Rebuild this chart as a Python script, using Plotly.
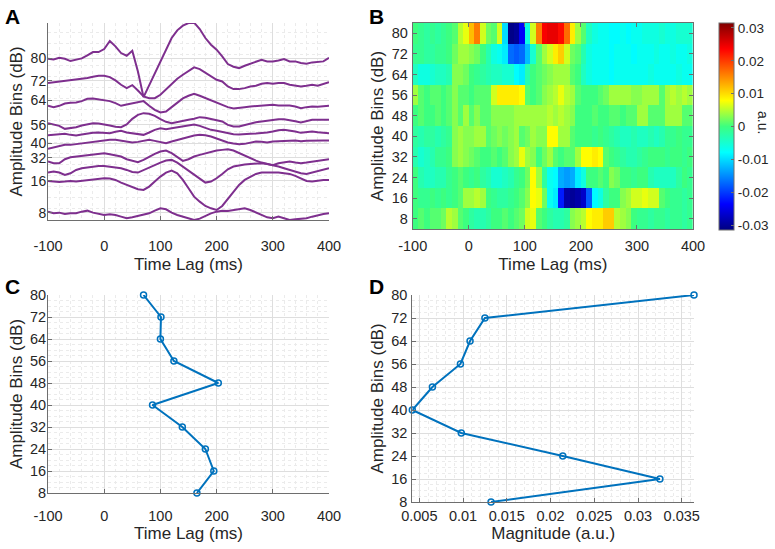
import plotly.graph_objects as go

# ---------------- data ----------------
# Panel A: time axis (ms) and offset traces (vertical offset units, larger = lower on plot)
time_ms = list(range(-100, 401, 10))
trace_80 = [177,179,174,177,184,181,176,167,157,157, 148,124,140,160,168,153,215,292,257,222,
            186,150,115,92,78,70,69,88,115,135, 150,170,193,201,205,198,192,185,180,185,
            185,182,178,185,185,190,192,188,187,185, 174]
trace_72 = [250,248,246,244,242,240,238,235,231,228, 228,232,242,255,265,256,272,290,295,295,
            285,268,253,237,225,215,203,208,218,230, 240,245,260,268,268,265,260,258,252,250,
            252,250,250,255,258,260,258,255,258,253, 247]
trace_64 = [318,322,318,311,309,308,304,297,296,298, 300,304,310,318,314,310,306,304,318,330,
            338,335,322,308,296,288,282,288,295,303, 310,316,322,326,325,322,320,319,317,316,
            315,317,316,317,320,325,322,320,321,319, 318]
trace_56 = [370,373,378,387,385,382,377,374,370,371, 373,377,381,382,374,357,345,340,342,348,
            358,366,370,366,362,360,357,352,354,358, 360,365,375,380,380,375,370,367,365,362,
            360,358,358,360,364,368,364,360,360,360, 360]
trace_48 = [406,405,403,402,405,407,404,401,399,398, 398,400,396,393,398,400,403,405,398,390,
            385,388,385,382,380,376,374,378,385,390, 393,397,400,403,404,404,402,401,400,398,
            395,391,390,392,395,399,397,395,397,398, 400]
trace_40 = [447,443,438,435,435,433,430,427,425,423, 422,420,420,423,426,428,426,422,420,423,
            426,430,425,420,415,410,407,405,406,410, 416,422,428,431,433,432,428,425,426,428,
            425,425,425,423,422,424,423,422,422,422, 422]
trace_32 = [485,490,490,478,472,470,468,465,463,462, 460,463,466,470,478,482,487,480,470,462,
            455,452,460,472,483,478,470,465,460,456, 452,450,448,452,460,468,475,482,488,493,
            496,490,487,485,488,490,488,485,482,480, 478]
trace_24 = [518,515,518,525,520,510,505,502,500,498, 498,500,502,505,510,516,518,510,502,495,
            488,482,480,488,500,512,525,538,548,545, 535,522,508,500,496,494,492,490,490,492,
            495,500,505,510,515,520,522,518,512,508, 505]
trace_16 = [543,545,546,545,543,545,543,540,538,535, 535,536,540,548,555,562,568,570,560,545,
            530,518,512,520,540,565,590,605,618,625, 630,618,598,575,555,540,530,522,518,517,
            518,518,520,522,528,535,543,545,542,540, 540]
trace_8 = [635,640,638,642,640,640,635,632,638,642, 645,643,645,650,655,652,648,645,640,632,
           625,628,638,645,650,655,660,656,648,640, 635,632,633,630,628,625,630,638,645,652,
           655,650,655,660,658,657,655,650,645,642, 640]
traces_a = [trace_80, trace_72, trace_64, trace_56, trace_48, trace_40, trace_32, trace_24, trace_16, trace_8]
a_tick_pos = [175, 243, 302, 375, 430, 474, 543, 638]
a_tick_text = ["80", "72", "64", "56", "40", "32", "16", "8"]

# Panel B: heatmap, 10 ms bins (centres) x amplitude bins
bin_centres_ms = list(range(-95, 400, 10))
amp_bins = [8, 16, 24, 32, 40, 48, 56, 64, 72, 80]
row_8 = [0.000,0.001,0.000,0.001,0.001,0.002,0.005,0.004,0.001,0.000,
         -0.002,-0.003,-0.003,-0.002,0.000,0.000,0.001,0.000,0.001,0.002,
         0.006,0.007,0.001,0.000,-0.002,-0.003,-0.003,-0.002,0.003,0.004,
         0.005,0.008,0.009,0.009,0.011,0.011,0.005,0.004,0.003,0.000,
         -0.001,-0.001,-0.002,-0.001,-0.001,-0.002,-0.001,-0.001,-0.002,-0.001]
row_16 = [0.000,-0.001,-0.001,0.000,-0.001,0.000,-0.001,0.000,0.001,0.004,
          0.004,0.005,0.004,0.000,-0.001,-0.002,-0.002,-0.001,0.000,0.001,
          0.003,0.008,0.007,0.002,-0.007,-0.009,-0.022,-0.029,-0.030,-0.029,
          -0.027,-0.018,-0.008,-0.006,-0.002,0.000,0.000,0.003,0.004,0.006,
          0.006,0.007,0.006,0.006,0.001,0.000,-0.001,-0.001,-0.002,-0.001]
row_24 = [0.000,-0.003,-0.004,-0.004,-0.003,-0.003,-0.001,0.000,0.001,0.000,
          -0.001,0.000,-0.002,-0.003,-0.005,-0.005,-0.004,-0.003,-0.001,0.000,
          0.002,0.008,0.004,-0.002,-0.007,-0.008,-0.013,-0.014,-0.013,-0.009,
          -0.006,0.000,0.000,0.001,0.000,0.003,0.002,0.000,0.000,-0.001,
          0.000,0.000,-0.003,-0.004,-0.004,-0.004,-0.004,-0.002,0.000,-0.001]
row_32 = [-0.003,-0.005,-0.004,-0.003,-0.001,-0.001,0.000,0.003,0.004,0.003,
          0.002,0.001,0.000,0.000,0.001,0.000,0.001,0.003,0.004,0.007,
          0.004,0.003,0.000,0.002,0.004,0.001,0.000,0.001,0.001,0.004,
          0.008,0.008,0.009,0.008,0.001,0.000,-0.001,-0.002,-0.003,-0.003,
          -0.002,-0.001,0.000,0.000,0.000,-0.001,0.000,0.000,-0.001,0.000]
row_40 = [-0.002,-0.003,-0.002,-0.002,-0.003,-0.002,-0.001,0.003,0.004,0.003,
          0.003,0.004,0.004,0.001,0.002,0.003,0.002,0.003,0.004,0.001,
          0.002,0.004,0.003,0.003,0.008,0.008,0.004,0.004,0.001,0.000,
          0.000,0.000,-0.001,0.000,-0.001,-0.002,-0.003,-0.004,-0.004,-0.003,
          -0.004,-0.004,-0.003,-0.004,-0.003,-0.001,-0.001,0.000,-0.001,-0.001]
row_48 = [0.000,0.001,0.000,0.000,0.001,0.000,0.001,0.003,0.001,0.004,
          0.001,0.003,0.001,0.001,0.003,0.003,0.003,0.003,0.004,0.004,
          0.004,0.004,0.004,0.004,0.005,0.004,0.005,0.004,0.003,0.000,
          0.000,0.000,0.001,0.000,0.000,0.001,0.001,0.000,0.001,0.001,
          0.004,0.004,0.001,0.001,0.001,0.004,0.004,0.004,0.001,0.001]
row_56 = [0.004,0.001,0.000,0.001,0.001,0.000,0.001,0.003,0.001,0.001,
          0.000,0.001,0.001,0.001,0.006,0.009,0.009,0.009,0.009,0.008,
          0.001,0.000,0.001,0.003,0.004,0.005,0.007,0.005,0.004,0.001,
          0.000,0.000,0.000,0.001,0.002,0.004,0.004,0.004,0.004,0.003,
          0.003,0.004,0.004,0.004,0.001,0.004,0.005,0.004,0.005,0.004]
row_64 = [-0.004,-0.006,-0.006,-0.005,-0.004,-0.004,-0.003,0.003,0.003,0.002,
          0.000,-0.001,-0.002,-0.003,-0.004,-0.004,-0.005,-0.005,-0.008,-0.009,
          -0.003,0.000,0.001,0.002,0.003,0.004,0.004,0.004,0.001,0.000,
          -0.004,-0.006,-0.007,-0.007,-0.007,-0.008,-0.007,-0.007,-0.007,-0.007,
          -0.007,-0.007,-0.006,-0.007,-0.007,-0.007,-0.007,-0.006,-0.007,-0.007]
row_72 = [-0.001,-0.001,-0.002,-0.002,-0.001,-0.001,0.000,0.002,0.004,0.004,
          0.003,0.002,0.000,-0.003,-0.006,-0.007,-0.009,-0.017,-0.018,-0.017,
          -0.012,-0.005,0.001,0.004,0.006,0.009,0.011,0.006,0.002,0.001,
          -0.003,-0.006,-0.007,-0.007,-0.007,-0.008,-0.007,-0.007,-0.007,-0.008,
          -0.007,-0.007,-0.007,-0.006,-0.007,-0.007,-0.006,-0.007,-0.007,-0.006]
row_80 = [0.000,-0.001,-0.002,-0.001,-0.002,-0.001,0.000,0.001,0.005,0.007,
          0.012,0.016,0.006,0.002,0.001,0.006,-0.010,-0.031,-0.030,-0.024,
          -0.006,0.006,0.016,0.024,0.025,0.025,0.023,0.017,0.009,0.004,
          0.001,-0.004,-0.006,-0.007,-0.007,-0.008,-0.008,-0.007,-0.008,-0.007,
          -0.007,-0.006,-0.006,-0.006,-0.005,-0.006,-0.006,-0.005,-0.005,-0.005]
heat_rows = [row_8, row_16, row_24, row_32, row_40, row_48, row_56, row_64, row_72, row_80]
cbar_ticks = [-0.03, -0.02, -0.01, 0, 0.01, 0.02, 0.03]
cbar_text = ["-0.03", "-0.02", "-0.01", "0", "0.01", "0.02", "0.03"]

# Panel C / D
peak_lag_ms = [165, 195, 180, 139, 86, 203, 124, 100, 101, 70]
magnitude = [0.0132, 0.0325, 0.0214, 0.0098, 0.0042, 0.0065, 0.0097, 0.0108, 0.0125, 0.0364]

time_ticks = [-100, 0, 100, 200, 300, 400]
time_text = ["-100", "0", "100", "200", "300", "400"]
mag_ticks = [0.005, 0.01, 0.015, 0.02, 0.025, 0.03, 0.035]
mag_text = ["0.005", "0.01", "0.015", "0.02", "0.025", "0.03", "0.035"]

# ---------------- figure ----------------
W, H = 775, 549
def fx(px): return px / W
def fy(py): return 1 - py / H

FONT = "Arial, Liberation Sans, sans-serif"
TXT = "#262626"
AX = "#6e6e6e"
GRID = "#dedede"
MINOR = "#ebebeb"
PURPLE = "#7E2F8E"
BLUE = "#0072BD"
jet = [[0, "#000080"], [0.125, "#0000ff"], [0.375, "#00ffff"], [0.5, "#3cff80"],
       [0.625, "#ffff00"], [0.875, "#ff0000"], [1, "#800000"]]

fig = go.Figure()

for tr in traces_a:
    fig.add_trace(go.Scatter(x=time_ms, y=tr, mode="lines", xaxis="x", yaxis="y",
                             line=dict(color=PURPLE, width=2), showlegend=False,
                             hoverinfo="skip"))

fig.add_trace(go.Heatmap(x=bin_centres_ms, y=amp_bins, z=heat_rows, xaxis="x2", yaxis="y2",
                         colorscale=jet, zmin=-0.0315, zmax=0.0315,
                         colorbar=dict(x=fx(719), xanchor="left", xpad=0, ypad=0,
                                       thickness=15, thicknessmode="pixels",
                                       len=207 / H, lenmode="fraction",
                                       y=fy(126.5), yanchor="middle",
                                       outlinewidth=1, outlinecolor=AX,
                                       tickvals=cbar_ticks, ticktext=cbar_text,
                                       ticks="inside", ticklen=3, tickcolor=AX,
                                       tickfont=dict(family=FONT, size=13.5, color=TXT))))

fig.add_trace(go.Scatter(x=peak_lag_ms, y=amp_bins, mode="lines+markers", xaxis="x3", yaxis="y3",
                         line=dict(color=BLUE, width=2),
                         marker=dict(symbol="circle-open", size=6, color=BLUE, line=dict(width=1.5)),
                         cliponaxis=False, showlegend=False))
fig.add_trace(go.Scatter(x=magnitude, y=amp_bins, mode="lines+markers", xaxis="x4", yaxis="y4",
                         line=dict(color=BLUE, width=2),
                         marker=dict(symbol="circle-open", size=6, color=BLUE, line=dict(width=1.5)),
                         cliponaxis=False, showlegend=False))

tickfont = dict(family=FONT, size=14.5, color=TXT)
titlefont = dict(family=FONT, size=17, color=TXT)

def xax(domain, anchor, rng, tv, tt, minor_dtick, title, standoff_lbl, mirror=False, tstand=4):
    return dict(domain=domain, anchor=anchor, range=rng, tickmode="array", tickvals=tv, ticktext=tt,
                automargin=False,
                showgrid=True, gridcolor=GRID, gridwidth=1, zeroline=False,
                showline=True, linecolor=AX, linewidth=1, mirror=mirror,
                ticks="inside", ticklen=4, tickcolor=AX, tickfont=tickfont,
                ticklabelstandoff=standoff_lbl,
                minor=dict(tickmode="linear", tick0=0, dtick=minor_dtick, showgrid=True,
                           gridcolor=MINOR, griddash="dot", ticks=""),
                title=dict(text=title, font=titlefont, standoff=tstand))

def yax(domain, anchor, rng, tv, tt, minor_dtick, title, standoff_lbl, mirror=False, grid=True,
        font=None):
    return dict(domain=domain, anchor=anchor, range=rng, tickmode="array", tickvals=tv, ticktext=tt,
                automargin=False,
                showgrid=grid, gridcolor=GRID, gridwidth=1, zeroline=False,
                showline=True, linecolor=AX, linewidth=1, mirror=mirror,
                ticks="inside", ticklen=4, tickcolor=AX, tickfont=font or tickfont,
                ticklabelstandoff=standoff_lbl,
                minor=dict(tickmode="linear", tick0=0, dtick=minor_dtick, showgrid=grid,
                           gridcolor=MINOR, griddash="dot", ticks=""),
                title=dict(text=title, font=titlefont, standoff=3))

bins_text = [str(b) for b in amp_bins]

fig.update_layout(
    width=W, height=H, margin=dict(l=0, r=0, t=0, b=0, autoexpand=False),
    paper_bgcolor="white", plot_bgcolor="white", showlegend=False,
    font=dict(family=FONT, color=TXT),
    xaxis=xax([fx(48), fx(329)], "y", [-100, 400], time_ticks, time_text, 20, "Time Lag (ms)", 13, tstand=4),
    yaxis=yax([fy(220), fy(23)], "x", [660, 70], a_tick_pos, a_tick_text, 33, "Amplitude Bins (dB)", -2,
              font=dict(family=FONT, size=14, color=TXT)),
    xaxis2=xax([fx(412.7), fx(693)], "y2", [-100, 400], time_ticks, time_text, 20, "Time Lag (ms)", 4, mirror="ticks", tstand=4),
    yaxis2=yax([fy(229), fy(23)], "x2", [4, 84], amp_bins, bins_text, 2, "Amplitude Bins (dB)", 1, mirror="ticks", grid=False),
    xaxis3=xax([fx(48), fx(329)], "y3", [-100, 400], time_ticks, time_text, 20, "Time Lag (ms)", 10, tstand=2),
    yaxis3=yax([fy(493), fy(295)], "x3", [8, 80], amp_bins, bins_text, 2, "Amplitude Bins (dB)", -2),
    xaxis4=xax([fx(412.3), fx(694)], "y4", [min(magnitude), max(magnitude)], mag_ticks, mag_text, 0.001, "Magnitude (a.u.)", 1, tstand=2),
    yaxis4=yax([fy(502), fy(295)], "x4", [8, 80], amp_bins, bins_text, 2, "Amplitude Bins (dB)", 1),
)

for letter, px, py in [("A", 3, 3), ("B", 367, 3), ("C", 3, 273), ("D", 367, 273)]:
    fig.add_annotation(text="<b>%s</b>" % letter, x=fx(px), y=fy(py), xref="paper", yref="paper",
                       xanchor="left", yanchor="top", showarrow=False,
                       font=dict(family=FONT, size=21, color="black"))

fig.add_annotation(text="a.u.", x=fx(763), y=fy(122), xref="paper", yref="paper",
                   textangle=90, showarrow=False, xanchor="center", yanchor="middle",
                   font=dict(family=FONT, size=14, color=TXT))

fig.write_html("out.html", config={"displayModeBar": False},
               post_script="document.body.style.margin='0';")
